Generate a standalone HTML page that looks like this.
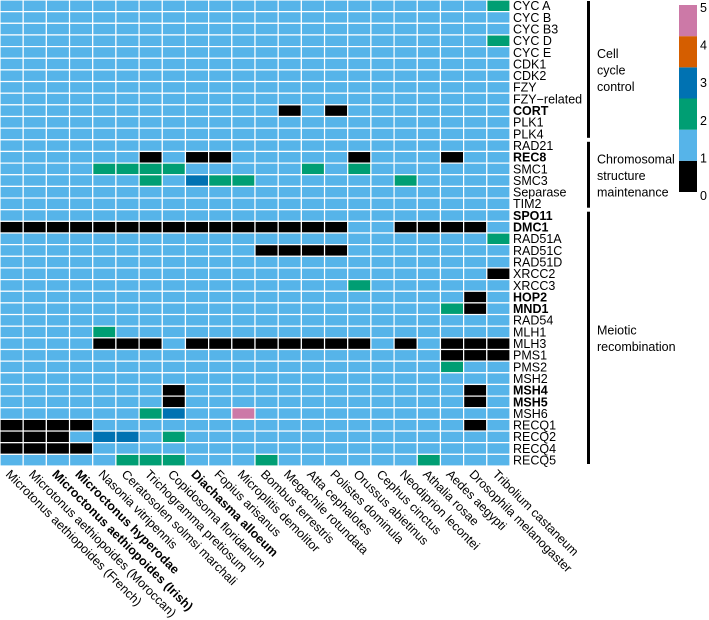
<!DOCTYPE html>
<html><head><meta charset="utf-8"><style>
html,body{margin:0;padding:0;background:#fff;}
svg{display:block;font-family:"Liberation Sans",Arial,sans-serif;}
</style></head><body>
<svg id="chart" width="709" height="620" viewBox="0 0 709 620"></svg>
<script>
const species = ["Microtonus aethiopoides (French)","Microtonus aethiopoides (Moroccan)","Microctonus aethiopoides (Irish)","Microctonus hyperodae","Nasonia vitripennis","Ceratosolen solmsi marchali","Trichogramma pretiosum","Copidosoma floridanum","Diachasma alloeum","Fopius arisanus","Microplitis demolitor","Bombus terrestris","Megachile rotundata","Atta cephalotes","Polistes dominula","Orussus abietinus","Cephus cinctus","Neodiprion lecontei","Athalia rosae","Aedes aegypti","Drosophila melanogaster","Tribolium castaneum"];
const boldSpecies = [2,3,8];
const genes = ["CYC A","CYC B","CYC B3","CYC D","CYC E","CDK1","CDK2","FZY","FZY\u2212related","CORT","PLK1","PLK4","RAD21","REC8","SMC1","SMC3","Separase","TIM2","SPO11","DMC1","RAD51A","RAD51C","RAD51D","XRCC2","XRCC3","HOP2","MND1","RAD54","MLH1","MLH3","PMS1","PMS2","MSH2","MSH4","MSH5","MSH6","RECQ1","RECQ2","RECQ4","RECQ5"];
const boldGenes = ["CORT","REC8","SPO11","DMC1","HOP2","MND1","MSH4","MSH5"];
// non-default cells: [geneIndex, speciesIndex, copies]; all others = 1
const exceptions = [
[0,21,2],[3,21,2],
[9,12,0],[9,14,0],
[13,6,0],[13,8,0],[13,9,0],[13,15,0],[13,19,0],
[14,4,2],[14,5,2],[14,6,2],[14,7,2],[14,13,2],[14,15,2],
[15,6,2],[15,8,3],[15,9,2],[15,10,2],[15,17,2],
[19,0,0],[19,1,0],[19,2,0],[19,3,0],[19,4,0],[19,5,0],[19,6,0],[19,7,0],[19,8,0],[19,9,0],[19,10,0],[19,11,0],[19,12,0],[19,13,0],[19,14,0],[19,17,0],[19,18,0],[19,19,0],[19,20,0],
[20,21,2],
[21,11,0],[21,12,0],[21,13,0],[21,14,0],
[23,21,0],[24,15,2],[25,20,0],[26,19,2],[26,20,0],
[28,4,2],
[29,4,0],[29,5,0],[29,6,0],[29,8,0],[29,9,0],[29,10,0],[29,11,0],[29,12,0],[29,13,0],[29,14,0],[29,15,0],[29,17,0],[29,19,0],[29,20,0],[29,21,0],
[30,19,0],[30,20,0],[30,21,0],
[31,19,2],
[33,7,0],[33,20,0],[34,7,0],[34,20,0],
[35,6,2],[35,7,3],[35,10,5],
[36,0,0],[36,1,0],[36,2,0],[36,3,0],[36,20,0],
[37,0,0],[37,1,0],[37,2,0],[37,4,3],[37,5,3],[37,7,2],
[38,0,0],[38,1,0],[38,2,0],[38,3,0],
[39,5,2],[39,6,2],[39,7,2],[39,11,2],[39,18,2]
];
const legendTicks = [0,1,2,3,4,5];
const groups = [{name:["Cell","cycle","control"],from:0,to:11},{name:["Chromosomal","structure","maintenance"],from:12,to:17},{name:["Meiotic","recombination"],from:18,to:39}];

const palette = ["#000000","#56B4E9","#009E73","#0072B2","#D55E00","#CC79A7"];
const NS="http://www.w3.org/2000/svg";
const svg=document.getElementById('chart');
const gridW=510, gridH=466;
const cw=gridW/species.length, ch=gridH/genes.length;
const xS=i=>i*cw, yS=i=>i*ch;
function mk(t,a,p){const e=document.createElementNS(NS,t);for(const k in a)e.setAttribute(k,a[k]);(p||svg).appendChild(e);return e;}
const vals=genes.map(()=>species.map(()=>1));
exceptions.forEach(e=>{vals[e[0]][e[1]]=e[2];});
const cellsG=mk('g',{});


vals.forEach((row,r)=>row.forEach((v,c)=>{
  const rc=mk('rect',{x:xS(c),y:yS(r),width:cw,height:ch,fill:palette[v],stroke:'#fff','stroke-width':1.2},cellsG);
  
  
}));
genes.forEach((g,r)=>{
  const t=mk('text',{x:gridW+3,y:yS(r)+ch-1.5,'font-size':12.5,'font-weight':boldGenes.includes(g)?'bold':'normal',fill:'#000'});
  t.textContent=g;
  
  
});
species.forEach((s,c)=>{
  const x=xS(c)+5, y=gridH+9;
  const t=mk('text',{x:x,y:y,'font-size':12.5,'font-weight':boldSpecies.includes(c)?'bold':'normal',transform:`rotate(45 ${x} ${y})`,fill:'#000'});
  t.textContent=s;
  
  
});
groups.forEach((g,i)=>{
  const y1=yS(g.from)+(i?2:1), y2=yS(g.to+1)-2;
  const l=mk('rect',{x:587,y:y1,width:3,height:y2-y1,fill:'#000'});
  
  
  const mid=(y1+y2)/2, n=g.name.length, lh=16.5;
  g.name.forEach((w,k)=>{
    const t=mk('text',{x:597,y:mid-(n-1)*lh/2+k*lh+5,'font-size':12.5,fill:'#000'});
    t.textContent=w;
    
    
  });
});
const lgTop=5, lgBot=192, segH=(lgBot-lgTop)/palette.length;
palette.forEach((col,v)=>{
  const r=mk('rect',{x:679,y:lgBot-(v+1)*segH,width:18,height:segH,fill:col});
  
  
});
legendTicks.forEach(v=>{
  const t=mk('text',{x:700,y:196-v*37.6+4,'font-size':12.5,fill:'#000'});
  t.textContent=v;
  
  
});
</script>
</body></html>
